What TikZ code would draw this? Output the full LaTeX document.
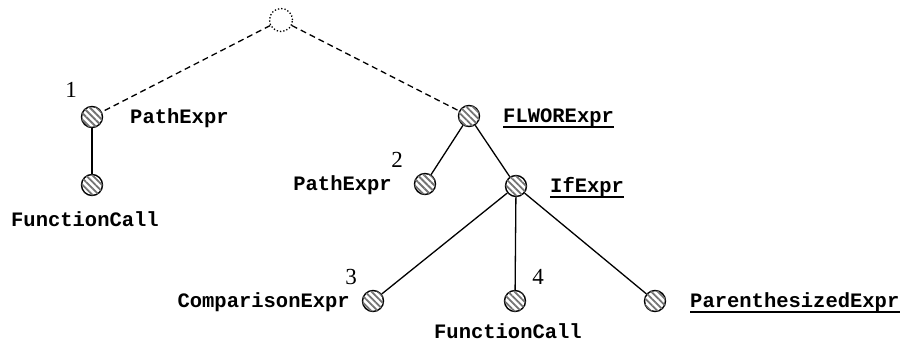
\documentclass[tikz,border=0pt]{standalone}
\usepackage{fontspec}
\setmainfont{Liberation Serif}
\setmonofont{Liberation Mono}
\usetikzlibrary{patterns.meta}

\tikzset{
  treenode/.style={circle, draw=black, line width=1.4pt, minimum size=21pt, inner sep=0pt,
    fill=white, postaction={pattern={Lines[angle=-45,distance=4.6pt,line width=1.8pt]}, pattern color=black!55}},
  rootnode/.style={circle, draw=black, dotted, line width=1.3pt, minimum size=23pt, inner sep=0pt},
  edge/.style={line width=1.3pt},
  dashedge/.style={line width=1.3pt, dash pattern=on 6pt off 4pt},
  lbl/.style={inner sep=0pt, font=\fontsize{20.5}{24}\selectfont\ttfamily\bfseries},
  num/.style={inner sep=0pt, font=\fontsize{23}{27}\selectfont},
  uline/.style={line width=2.6pt}
}

\begin{document}
\begin{tikzpicture}[x=1pt,y=-1pt]
  \useasboundingbox (0,0) rectangle (904,343);

  % tree nodes
  \node[rootnode] (root) at (281,20) {};
  \node[treenode] (p1) at (92,117) {};
  \node[treenode] (fc1) at (92,185) {};
  \node[treenode] (flwor) at (469,116) {};
  \node[treenode] (p2) at (425,184) {};
  \node[treenode] (ifx) at (516,186) {};
  \node[treenode] (cmp) at (373,301) {};
  \node[treenode] (fc2) at (515,301) {};
  \node[treenode] (par) at (655,301) {};

  % edges
  \draw[dashedge] (root) -- (p1);
  \draw[dashedge] (root) -- (flwor);
  \draw[edge] (p1) -- (fc1);
  \draw[edge] (flwor) -- (p2);
  \draw[edge] (flwor) -- (ifx);
  \draw[edge] (ifx) -- (cmp);
  \draw[edge] (ifx) -- (fc2);
  \draw[edge] (ifx) -- (par);

  % node labels
  \node[lbl, anchor=base west] (lp1) at (130,123) {PathExpr};
  \node[lbl, anchor=base] (lfc1) at (85,226) {FunctionCall};
  \node[lbl, anchor=base west] (lflwor) at (503,122) {FLWORExpr};
  \node[lbl, anchor=base east] (lp2) at (392,190) {PathExpr};
  \node[lbl, anchor=base west] (lifx) at (550,192) {IfExpr};
  \node[lbl, anchor=base east] (lcmp) at (350,307) {ComparisonExpr};
  \node[lbl, anchor=base] (lfc2) at (508,338) {FunctionCall};
  \node[lbl, anchor=base west] (lpar) at (690,307) {ParenthesizedExpr};

  % underlines
  \draw[uline] ([yshift=-5pt]lflwor.base west) -- ([yshift=-5pt]lflwor.base east);
  \draw[uline] ([yshift=-5pt]lifx.base west) -- ([yshift=-5pt]lifx.base east);
  \draw[uline] ([yshift=-5pt]lpar.base west) -- ([yshift=-5pt]lpar.base east);

  % order numbers
  \node[num] (n1) at (71,90) {1};
  \node[num] (n2) at (397,160) {2};
  \node[num] (n3) at (351,277) {3};
  \node[num] (n4) at (538,277) {4};
\end{tikzpicture}
\end{document}
